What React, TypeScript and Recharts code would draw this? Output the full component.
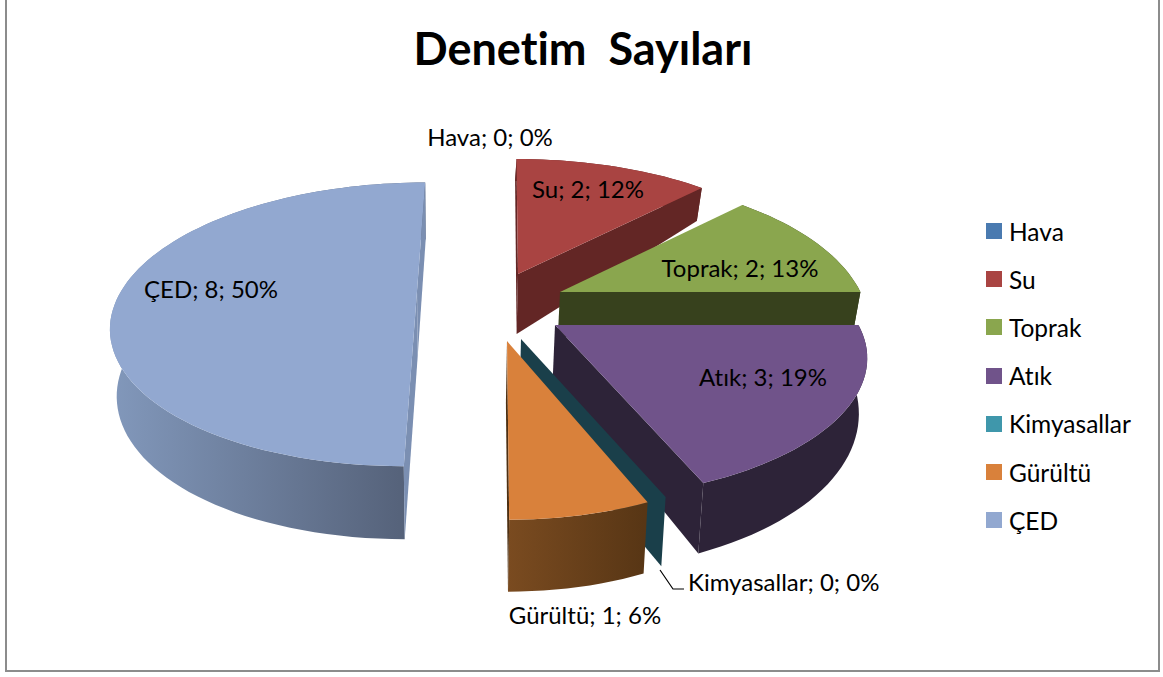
import React from 'react';
import { PieChart, Pie, Legend } from 'recharts';

const categories = ['Hava', 'Su', 'Toprak', 'Atık', 'Kimyasallar', 'Gürültü', 'ÇED'];
const values = [0, 2, 2, 3, 0, 1, 8];
const percents = [0, 12, 13, 19, 0, 6, 50];
const colors = ['#4a7ab0', '#a94442', '#8aa64e', '#70538a', '#3f97ab', '#d9813b', '#92a8d0'];

// explosion + extrusion of each slice: apex on screen, vanishing x, size, wall colours, wall height
const looks = [
  { apex: [518, 274], vx: 510, sx: 1, sy: 1.06, wall: '#632625', rim: ['#632625', '#632625'], d0: 60, d1: 38 },
  { apex: [518, 274], vx: 510, sx: 1, sy: 1.06, wall: '#632625', rim: ['#632625', '#632625'], d0: 60, d1: 38 },
  { apex: [560, 292], vx: 560, sx: 0.985, sy: 1.07, wall: '#37411d', rim: ['#37411d', '#37411d'], d0: 45, d1: 10 },
  { apex: [555, 325], vx: 555, sx: 0.995, sy: 1, wall: '#2d2338', rim: ['#2d2338', '#2d2338'], d0: 50, d1: 22 },
  { apex: [521, 339], vx: 521, sx: 0.97, sy: 1, wall: '#1a3f4a', rim: ['#1a3f4a', '#1a3f4a'], d0: 58, d1: 12 },
  { apex: [507, 341], vx: 500, sx: 0.93, sy: 1.02, wall: '#4d2f12', rim: ['#7a4b20', '#583615'], d0: 62, d1: 10 },
  { apex: [417, 291], vx: 460, sx: 0.97, sy: 1, wall: '#7b8fb2', rim: ['#8197ba', '#525e75'], d0: 65, d1: 8 },
];

const labelSpots = [
  { x: 490, y: 140, anchor: 'middle' },
  { x: 588, y: 192, anchor: 'middle' },
  { x: 740, y: 271, anchor: 'middle' },
  { x: 763, y: 380, anchor: 'middle' },
  { x: 688, y: 585, anchor: 'start' },
  { x: 585, y: 618, anchor: 'middle' },
  { x: 211, y: 292, anchor: 'middle' },
];

const FONT = 'Lato, "Open Sans", sans-serif';
const RX = 305;
const RY = 134;
const K = 0.235;

function Slice3D(props: any) {
  const name = props.name ?? props.payload?.name;
  const i = categories.indexOf(name);
  const look = looks[i];
  const t0 = 90 - props.startAngle;
  const t1 = 90 - props.endAngle;

  const top = (u: number, v: number) => {
    const w = 1 - K * v;
    return [look.vx + (look.apex[0] - look.vx + RX * look.sx * u) / w, look.apex[1] + (RY * look.sy * v) / w];
  };
  const bottom = (u: number, v: number) => {
    const [x, y] = top(u, v);
    return [x + (450 - x) * 0.02, y + look.d0 + look.d1 * v];
  };
  const at = (t: number) => {
    const r = (t * Math.PI) / 180;
    return [Math.sin(r), -Math.cos(r)];
  };
  const toPath = (pts: number[][]) => 'M' + pts.map((p) => p[0].toFixed(1) + ',' + p[1].toFixed(1)).join('L') + 'Z';

  const angles: number[] = [];
  const steps = Math.max(1, Math.ceil((t1 - t0) / 2));
  for (let s = 0; s <= steps; s++) angles.push(t0 + ((t1 - t0) * s) / steps);

  const topRim = angles.map((t) => top(at(t)[0], at(t)[1]));
  const botRim = angles.map((t) => bottom(at(t)[0], at(t)[1]));
  const apexTop = top(0, 0);
  const apexBot = bottom(0, 0);
  const wallAt = (k: number) => toPath([apexTop, topRim[k], botRim[k], apexBot]);
  const last = angles.length - 1;
  const xs = botRim.map((p) => p[0]);
  const gid = 'rim-' + i;

  return (
    <g>
      <defs>
        <linearGradient id={gid} gradientUnits="userSpaceOnUse" x1={Math.min(...xs)} y1={0} x2={Math.max(...xs)} y2={0}>
          <stop offset="0%" stopColor={look.rim[0]} />
          <stop offset="100%" stopColor={look.rim[1]} />
        </linearGradient>
      </defs>
      {t1 > t0 && <path d={toPath([...topRim, ...[...botRim].reverse()])} fill={`url(#${gid})`} />}
      {t1 > t0 && topRim[0][0] < apexTop[0] && <path d={wallAt(0)} fill={look.wall} />}
      {topRim[last][0] > apexTop[0] && <path d={wallAt(last)} fill={look.wall} />}
      {t1 > t0 && <path d={toPath([apexTop, ...topRim])} fill={colors[i]} />}
    </g>
  );
}

function SliceLabel(props: any) {
  const name = props.name ?? props.payload?.name;
  const i = categories.indexOf(name);
  const spot = labelSpots[i];
  return (
    <g>
      {name === 'Kimyasallar' && <polyline points="660,570 673,589 684,589" fill="none" stroke="#000" strokeWidth={1.2} />}
      <text x={spot.x} y={spot.y} textAnchor={spot.anchor as any} dominantBaseline="middle" fontFamily={FONT} fontSize={24} fill="#000" style={{ fontVariantLigatures: 'none' }}>
        {`${name}; ${values[i]}; ${percents[i]}%`}
      </text>
    </g>
  );
}

function LegendBox() {
  return (
    <div>
      {categories.map((c, i) => (
        <div key={c} style={{ height: 48.2, display: 'flex', alignItems: 'center', fontFamily: FONT, fontSize: 24.5, color: '#000', fontVariantLigatures: 'none' }}>
          <span style={{ width: 16, height: 16, background: colors[i], marginRight: 7, display: 'inline-block' }} />
          {c}
        </div>
      ))}
    </div>
  );
}

export default function App() {
  const data = categories.map((name, i) => ({ name, value: values[i], fill: colors[i] }));
  return (
    <div style={{ position: 'fixed', left: 0, top: 0, width: 1163, height: 677, background: '#fff' }}>
      <PieChart width={1163} height={677} margin={{ top: 0, right: 0, bottom: 0, left: 0 }}>
        <rect x={6} y={-10} width={1153} height={681} fill="#fff" stroke="#8c8c8c" strokeWidth={2} />
        <text x={583} y={53} textAnchor="middle" dominantBaseline="middle" fontFamily={FONT} fontWeight={700} fontSize={45} fill="#000" xmlSpace="preserve" style={{ fontVariantLigatures: 'none' }}>
          Denetim  Sayıları
        </text>
        <Pie
          data={data}
          dataKey="value"
          nameKey="name"
          cx={500}
          cy={297}
          outerRadius={134}
          startAngle={90}
          endAngle={-270}
          stroke="none"
          isAnimationActive={false}
          shape={Slice3D}
          label={SliceLabel}
          labelLine={false}
        />
        <Legend content={<LegendBox />} wrapperStyle={{ left: 986, top: 207, width: 170 }} />
      </PieChart>
    </div>
  );
}
